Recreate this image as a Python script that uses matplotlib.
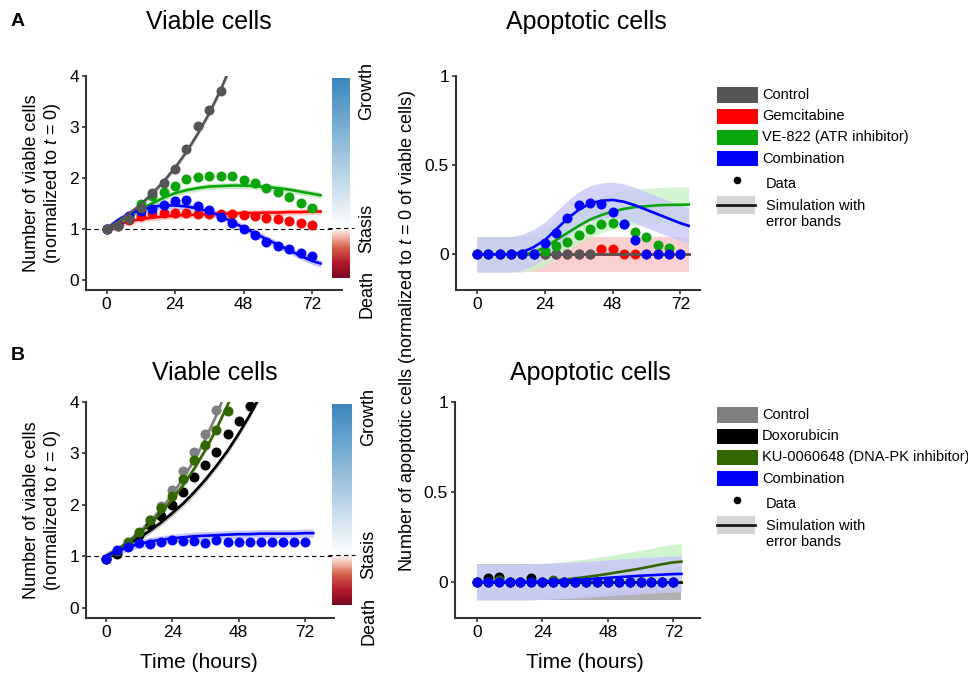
import numpy as np
import matplotlib
matplotlib.use('Agg')
import matplotlib.pyplot as plt
from matplotlib.colors import LinearSegmentedColormap
from matplotlib.patches import Rectangle

plt.rcParams['font.family'] = ['Liberation Sans', 'DejaVu Sans']
plt.rcParams['mathtext.fontset'] = 'custom'
plt.rcParams['mathtext.it'] = 'Liberation Sans:italic'
plt.rcParams['mathtext.rm'] = 'Liberation Sans'

W, H = 968, 681

# time points (hours)
t_data = [0, 4, 8, 12, 16, 20, 24, 28, 32, 36, 40, 44, 48, 52, 56, 60, 64, 68, 72]
t_sim = [0, 4, 8, 12, 16, 20, 24, 28, 32, 36, 40, 44, 48, 52, 56, 60, 64, 68, 72, 75]

# ---- A: gemcitabine / VE-822 ----
names_a = ['Control', 'Gemcitabine', 'VE-822 (ATR inhibitor)', 'Combination']
colors_a = ['#555555', '#ff0000', '#0aa50a', '#0000ff']

viable_a_ctrl = [1.0, 1.05, 1.2, 1.4, 1.71, 1.90, 2.18, 2.57, 3.02, 3.34, 3.71]
viable_a_gem = [1.0, 1.05, 1.17, 1.25, 1.32, 1.32, 1.32, 1.32, 1.30, 1.30, 1.30, 1.30,
                1.27, 1.25, 1.22, 1.19, 1.15, 1.11, 1.07]
viable_a_ve = [1.0, 1.08, 1.22, 1.48, 1.64, 1.72, 1.84, 1.97, 2.02, 2.03, 2.03, 2.03,
               1.95, 1.90, 1.80, 1.72, 1.62, 1.51, 1.41]
viable_a_comb = [1.0, 1.07, 1.25, 1.35, 1.39, 1.47, 1.54, 1.56, 1.45, 1.37, 1.24, 1.11,
                 1.0, 0.87, 0.75, 0.66, 0.60, 0.52, 0.46]

sim_viable_a_ctrl = [1.0, 1.14, 1.30, 1.48, 1.69, 1.93, 2.20, 2.51, 2.87, 3.27, 3.73, 4.26]
sim_viable_a_gem = [1.0, 1.08, 1.15, 1.19, 1.22, 1.24, 1.26, 1.27, 1.28, 1.29, 1.30, 1.30,
                    1.31, 1.31, 1.32, 1.32, 1.33, 1.33, 1.34, 1.34]
sim_viable_a_ve = [1.0, 1.12, 1.25, 1.38, 1.50, 1.61, 1.70, 1.76, 1.80, 1.83, 1.84, 1.85,
                   1.85, 1.84, 1.82, 1.80, 1.77, 1.73, 1.69, 1.66]
sim_viable_a_comb = [1.0, 1.17, 1.30, 1.38, 1.43, 1.46, 1.46, 1.44, 1.40, 1.34, 1.25, 1.14,
                     1.02, 0.91, 0.80, 0.69, 0.58, 0.47, 0.37, 0.32]

apop_a_ctrl = [0, 0, 0, 0, 0, 0, 0, 0, 0, 0, 0]
apop_a_gem = [0, 0, 0, 0, 0, 0, 0, 0, 0, 0, 0, 0.028, 0.028, 0, 0, 0, 0, 0, 0]
apop_a_ve = [0, 0, 0, 0, 0, 0, 0.02, 0.047, 0.071, 0.106, 0.143, 0.168, 0.177, 0.17,
             0.127, 0.099, 0.054, 0.034, 0.0]
apop_a_comb = [0, 0, 0, 0, 0, 0, 0.065, 0.12, 0.205, 0.274, 0.289, 0.28, 0.236, 0.171,
               0.078, 0, 0, 0, 0]

sim_apop_a_ctrl = [0] * 20
sim_apop_a_gem = [0] * 20
sim_apop_a_ve = [0, 0, 0, 0, 0, 0.01, 0.04, 0.08, 0.12, 0.16, 0.195, 0.22, 0.24, 0.255,
                 0.265, 0.27, 0.275, 0.277, 0.278, 0.279]
sim_apop_a_comb = [0, 0, 0, 0, 0.012, 0.04, 0.08, 0.14, 0.20, 0.25, 0.285, 0.30, 0.305,
                   0.295, 0.275, 0.25, 0.225, 0.20, 0.175, 0.16]

# ---- B: doxorubicin / KU-0060648 ----
names_b = ['Control', 'Doxorubicin', 'KU-0060648 (DNA-PK inhibitor)', 'Combination']
colors_b = ['#808080', '#000000', '#336600', '#0000ff']

viable_b_ctrl = [0.95, 1.07, 1.25, 1.45, 1.70, 1.97, 2.28, 2.65, 3.03, 3.38, 3.84]
viable_b_dox = [0.95, 1.05, 1.2, 1.41, 1.60, 1.78, 2.0, 2.25, 2.54, 2.77, 3.03, 3.38, 3.64, 3.92]
viable_b_ku = [0.95, 1.1, 1.27, 1.48, 1.71, 1.93, 2.17, 2.51, 2.87, 3.16, 3.46, 3.82]
viable_b_comb = [0.94, 1.13, 1.18, 1.25, 1.23, 1.27, 1.31, 1.29, 1.29, 1.25, 1.31, 1.27,
                 1.27, 1.27, 1.27, 1.27, 1.27, 1.27, 1.27]

sim_viable_b_ctrl = [1.0, 1.13, 1.29, 1.47, 1.68, 1.92, 2.2, 2.52, 2.88, 3.28, 3.75, 4.28]
sim_viable_b_dox = [1.0, 1.11, 1.23, 1.36, 1.50, 1.66, 1.84, 2.03, 2.25, 2.49, 2.76, 3.05,
                    3.38, 3.74, 4.14]
sim_viable_b_ku = [1.0, 1.12, 1.27, 1.44, 1.63, 1.85, 2.1, 2.39, 2.71, 3.07, 3.48, 3.94, 4.45]
sim_viable_b_comb = [1.0, 1.1, 1.18, 1.24, 1.29, 1.32, 1.35, 1.37, 1.39, 1.40, 1.41, 1.42,
                     1.43, 1.43, 1.44, 1.44, 1.44, 1.44, 1.45, 1.45]

apop_b_ctrl = [0, 0, 0, 0, 0, 0, 0, 0, 0, 0, 0]
apop_b_dox = [0, 0.02, 0.028, 0, 0, 0.024, 0, 0, 0, 0, 0, 0, 0, 0, 0, 0, 0, 0, 0]
apop_b_ku = [0, 0, 0.01, 0, 0, 0, 0, 0.01, 0, 0, 0, 0, 0, 0, 0, 0, 0, 0, 0]
apop_b_comb = [0] * 19

sim_apop_b_ctrl = [0] * 20
sim_apop_b_dox = [0] * 20
sim_apop_b_ku = [0, 0, 0, 0, 0, 0.001, 0.004, 0.008, 0.013, 0.02, 0.028, 0.036, 0.045,
                 0.055, 0.065, 0.075, 0.087, 0.099, 0.109, 0.113]
sim_apop_b_comb = [0, 0, 0, 0, 0, 0.001, 0.003, 0.005, 0.008, 0.011, 0.015, 0.019, 0.023,
                   0.027, 0.031, 0.035, 0.038, 0.041, 0.044, 0.045]

# error band half widths
band_viable_a = [0.06, 0.06, 0.06, 0.07]
band_apop_a = [0.0, 0.1, 0.1, 0.1]
band_viable_b = [0.06, 0.06, 0.06, 0.08]
band_apop_b = [0.1, 0.0, 0.1, 0.1]


def px_rect(x0, y0, x1, y1):
    return [x0 / W, 1 - y1 / H, (x1 - x0) / W, (y1 - y0) / H]


def style(ax, xlim, ylim, yticks, ylabels):
    ax.set_xlim(*xlim)
    ax.set_ylim(*ylim)
    ax.set_xticks([0, 24, 48, 72])
    ax.set_yticks(yticks)
    ax.set_yticklabels(ylabels)
    for s in ['top', 'right']:
        ax.spines[s].set_visible(False)
    for s in ['left', 'bottom']:
        ax.spines[s].set_linewidth(1.5)
        ax.spines[s].set_color('#333333')
    ax.tick_params(labelsize=12.5, length=3, width=1.2, color='#333333', pad=2)


def draw(ax, data, sims, bands, colors, order, band_colors=None, band_alpha=0.22):
    if band_colors is None:
        band_colors = colors
    for i in order:
        y_s = np.array(sims[i])
        ts = np.array(t_sim[:len(y_s)])
        if bands[i] > 0:
            ax.fill_between(ts, y_s - bands[i], y_s + bands[i], color=band_colors[i],
                            alpha=band_alpha, lw=0)
    for i in order:
        y_s = np.array(sims[i])
        ts = np.array(t_sim[:len(y_s)])
        ax.plot(ts, y_s, color=colors[i], lw=1.9)
        y_d = data[i]
        ax.plot(t_data[:len(y_d)], y_d, 'o', color=colors[i], ms=7.2, mew=0)


fig = plt.figure(figsize=(W / 100, H / 100), dpi=100)

ax_av = fig.add_axes(px_rect(86, 76, 342, 290))
ax_aa = fig.add_axes(px_rect(456, 76, 700, 290))
ax_bv = fig.add_axes(px_rect(86, 402, 334, 618))
ax_ba = fig.add_axes(px_rect(455, 402, 700, 618))

draw(ax_av, [viable_a_ctrl, viable_a_gem, viable_a_ve, viable_a_comb],
     [sim_viable_a_ctrl, sim_viable_a_gem, sim_viable_a_ve, sim_viable_a_comb],
     band_viable_a, colors_a, [1, 2, 3, 0])
draw(ax_aa, [apop_a_ctrl, apop_a_gem, apop_a_ve, apop_a_comb],
     [sim_apop_a_ctrl, sim_apop_a_gem, sim_apop_a_ve, sim_apop_a_comb],
     band_apop_a, colors_a, [1, 0, 2, 3],
     band_colors=['#ffffff', '#f9c4c4', '#c9f3c9', '#c8c8f6'], band_alpha=0.8)
draw(ax_bv, [viable_b_ctrl, viable_b_dox, viable_b_ku, viable_b_comb],
     [sim_viable_b_ctrl, sim_viable_b_dox, sim_viable_b_ku, sim_viable_b_comb],
     band_viable_b, colors_b, [0, 1, 2, 3])
draw(ax_ba, [apop_b_ctrl, apop_b_dox, apop_b_ku, apop_b_comb],
     [sim_apop_b_ctrl, sim_apop_b_dox, sim_apop_b_ku, sim_apop_b_comb],
     band_apop_b, colors_b, [0, 1, 2, 3],
     band_colors=['#a6a6a6', '#cccccc', '#c9f3c9', '#c8c8f6'], band_alpha=0.88)

style(ax_av, (-7.2, 82.5), (-0.2, 4), [0, 1, 2, 3, 4], ['0', '1', '2', '3', '4'])
style(ax_bv, (-7.2, 82.5), (-0.2, 4), [0, 1, 2, 3, 4], ['0', '1', '2', '3', '4'])
style(ax_aa, (-7.5, 79), (-0.2, 1), [0, 0.5, 1], ['0', '0.5', '1'])
style(ax_ba, (-8, 81.8), (-0.2, 1), [0, 0.5, 1], ['0', '0.5', '1'])

for ax in [ax_av, ax_bv]:
    ax.axhline(1, color='k', lw=0.8, ls=(0, (4, 3)), zorder=0.5)

# growth / stasis / death colour bars
cmap = LinearSegmentedColormap.from_list(
    'gsd', [(0.0, '#7a0a22'), (0.07, '#b2182b'), (0.15, '#d6604d'),
            (0.21, '#f4c3b5'), (0.25, '#ffffff'), (1.0, '#3a87bd')])
grad = np.linspace(0, 4, 400)[:, None]
for rect in [px_rect(332, 78, 350, 278), px_rect(332, 404, 351, 605)]:
    cb = fig.add_axes(rect)
    cb.imshow(grad, extent=[0, 1, 0, 4], origin='lower', aspect='auto', cmap=cmap,
              vmin=0, vmax=4)
    cb.set_xlim(0, 1)
    cb.set_ylim(0, 4)
    cb.axis('off')
    cb.plot([-0.2, 1.2], [1, 1], color='k', lw=0.8, ls=(0, (4, 3)), clip_on=False)
    cb.text(1.93, 3.74, 'Growth', rotation=90, ha='center', va='center', fontsize=13)
    cb.text(1.93, 1.0, 'Stasis', rotation=90, ha='center', va='center', fontsize=13)
    cb.text(1.93, -0.32, 'Death', rotation=90, ha='center', va='center', fontsize=13)

# overlay in pixel coordinates for texts and legends
ov = fig.add_axes([0, 0, 1, 1])
ov.set_xlim(0, W)
ov.set_ylim(H, 0)
ov.axis('off')

ov.text(18, 22, 'A', fontsize=14, fontweight='bold', ha='center', va='center')
ov.text(18, 355, 'B', fontsize=14, fontweight='bold', ha='center', va='center')
ov.text(209, 22, 'Viable cells', fontsize=18, ha='center', va='center')
ov.text(586, 22, 'Apoptotic cells', fontsize=18, ha='center', va='center')
ov.text(215, 373, 'Viable cells', fontsize=18, ha='center', va='center')
ov.text(590, 373, 'Apoptotic cells', fontsize=18, ha='center', va='center')

vlabel = 'Number of viable cells\n(normalized to $t$ = 0)'
ov.text(43, 183, vlabel, rotation=90, ha='center', va='center', fontsize=13,
        multialignment='center', linespacing=1.15)
ov.text(43, 510, vlabel, rotation=90, ha='center', va='center', fontsize=13,
        multialignment='center', linespacing=1.15)
ov.text(407, 331, 'Number of apoptotic cells (normalized to $t$ = 0 of viable cells)',
        rotation=90, ha='center', va='center', fontsize=13)
ov.text(199, 663, 'Time (hours)', ha='center', va='center', fontsize=15)
ov.text(585, 663, 'Time (hours)', ha='center', va='center', fontsize=15)


def draw_legend(y0, names, colors):
    for i, (n, c) in enumerate(zip(names, colors)):
        yc = y0 + i * 21.2
        ov.add_patch(Rectangle((717, yc - 7.6), 41, 15.2, color=c, lw=0))
        ov.text(762, yc, n, ha='left', va='center', fontsize=10.5)
    ov.plot([737], [y0 + 84.5], 'o', color='k', ms=5.5, mew=0)
    ov.text(766, y0 + 89, 'Data', ha='left', va='center', fontsize=10.5)
    ov.add_patch(Rectangle((717, y0 + 101), 38, 18, color='#d4d4d4', lw=0))
    ov.plot([717, 755], [y0 + 110, y0 + 110], color='#1a1a1a', lw=2)
    ov.text(766, y0 + 110.5, 'Simulation with', ha='left', va='center', fontsize=10.5)
    ov.text(766, y0 + 127.5, 'error bands', ha='left', va='center', fontsize=10.5)


draw_legend(95, names_a, colors_a)
draw_legend(415, names_b, colors_b)

fig.savefig('out.png', dpi=100)
